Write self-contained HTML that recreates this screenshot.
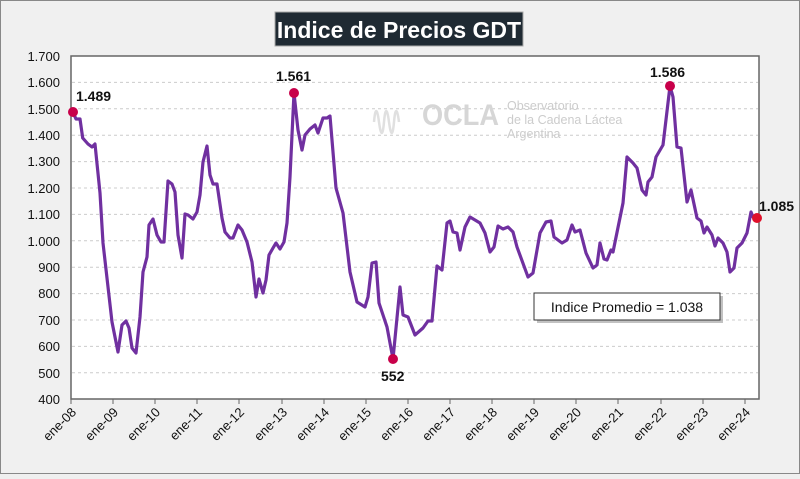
<!DOCTYPE html>
<html><head><meta charset="utf-8"><style>
body{margin:0;width:800px;height:474px;overflow:hidden;background:#efefef;font-family:"Liberation Sans",sans-serif}
</style></head><body>
<svg width="800" height="474" xmlns="http://www.w3.org/2000/svg" font-family="Liberation Sans, sans-serif">
<rect x="0.5" y="0.5" width="799" height="473" fill="#f0f0f0" stroke="#888"/>
<rect x="275" y="12" width="248" height="34" fill="#1f2a33" stroke="#aaa"/>
<text x="399" y="38" text-anchor="middle" font-size="23" font-weight="bold" fill="#fff">Indice de Precios GDT</text>
<rect x="73" y="58" width="686" height="341" fill="#c8c8c8"/>
<rect x="71" y="56" width="688" height="343" fill="#fff" stroke="#666" stroke-width="1.5"/>
<g stroke="#ccc" stroke-dasharray="3,3" stroke-width="1">
<line x1="72" x2="758" y1="82.4" y2="82.4"/><line x1="72" x2="758" y1="108.8" y2="108.8"/><line x1="72" x2="758" y1="135.2" y2="135.2"/><line x1="72" x2="758" y1="161.6" y2="161.6"/><line x1="72" x2="758" y1="188" y2="188"/><line x1="72" x2="758" y1="214.4" y2="214.4"/><line x1="72" x2="758" y1="240.8" y2="240.8"/><line x1="72" x2="758" y1="267.2" y2="267.2"/><line x1="72" x2="758" y1="293.6" y2="293.6"/><line x1="72" x2="758" y1="320" y2="320"/><line x1="72" x2="758" y1="346.4" y2="346.4"/><line x1="72" x2="758" y1="372.8" y2="372.8"/>
</g>
<g font-size="13" fill="#111" text-anchor="end">
<text x="60" y="61">1.700</text><text x="60" y="87">1.600</text><text x="60" y="114">1.500</text><text x="60" y="140">1.400</text><text x="60" y="166">1.300</text><text x="60" y="193">1.200</text><text x="60" y="219">1.100</text><text x="60" y="246">1.000</text><text x="60" y="272">900</text><text x="60" y="298">800</text><text x="60" y="325">700</text><text x="60" y="351">600</text><text x="60" y="378">500</text><text x="60" y="404">400</text>
</g>
<g stroke="#666" stroke-width="1">
<line x1="71" y1="399" x2="71" y2="404"/><line x1="113" y1="399" x2="113" y2="404"/><line x1="155" y1="399" x2="155" y2="404"/><line x1="197" y1="399" x2="197" y2="404"/><line x1="239" y1="399" x2="239" y2="404"/><line x1="282" y1="399" x2="282" y2="404"/><line x1="324" y1="399" x2="324" y2="404"/><line x1="366" y1="399" x2="366" y2="404"/><line x1="408" y1="399" x2="408" y2="404"/><line x1="450" y1="399" x2="450" y2="404"/><line x1="492" y1="399" x2="492" y2="404"/><line x1="534" y1="399" x2="534" y2="404"/><line x1="576" y1="399" x2="576" y2="404"/><line x1="618" y1="399" x2="618" y2="404"/><line x1="661" y1="399" x2="661" y2="404"/><line x1="703" y1="399" x2="703" y2="404"/><line x1="745" y1="399" x2="745" y2="404"/>
</g>
<g font-size="13" fill="#111" text-anchor="end">
<text transform="translate(77,413) rotate(-45)">ene-08</text><text transform="translate(119,413) rotate(-45)">ene-09</text><text transform="translate(161,413) rotate(-45)">ene-10</text><text transform="translate(203,413) rotate(-45)">ene-11</text><text transform="translate(245,413) rotate(-45)">ene-12</text><text transform="translate(288,413) rotate(-45)">ene-13</text><text transform="translate(330,413) rotate(-45)">ene-14</text><text transform="translate(372,413) rotate(-45)">ene-15</text><text transform="translate(414,413) rotate(-45)">ene-16</text><text transform="translate(456,413) rotate(-45)">ene-17</text><text transform="translate(498,413) rotate(-45)">ene-18</text><text transform="translate(540,413) rotate(-45)">ene-19</text><text transform="translate(582,413) rotate(-45)">ene-20</text><text transform="translate(624,413) rotate(-45)">ene-21</text><text transform="translate(667,413) rotate(-45)">ene-22</text><text transform="translate(709,413) rotate(-45)">ene-23</text><text transform="translate(751,413) rotate(-45)">ene-24</text>
</g>
<g fill="#ccc">
<text x="422" y="125" font-size="30" font-weight="bold" fill="#d6d6d6" textLength="77" lengthAdjust="spacingAndGlyphs">OCLA</text>
<text x="507" y="110" font-size="12.5">Observatorio</text>
<text x="507" y="124" font-size="12.5">de la Cadena Láctea</text>
<text x="507" y="138" font-size="12.5">Argentina</text>
<path d="M374 122 q2-22 5 0 t5 0 t5 0 t5 0 t5 0" stroke="#e0e0e0" stroke-width="2.5" fill="none"/>
</g>
<polyline fill="none" stroke="#7030a0" stroke-width="3.2" stroke-linejoin="round" points="72.7,111.7 76,119 80,119 82.7,138 88,144 92,147 95,144 100,193 103,243 112,322 118,352 122,325 126,321 129,328 132,348 136,353 140,317 143,272 147,257 149,225 153,219 157,235 161,242 164,242 168,181 172,184 175,192 178,235 182,258 185,214 188,215 193,219 197,212 200,195 203,162 207,146 210,175 213,184 217,184 222,218 225,232 230,238 233,238 238,225 242,230 247,242 252,262 256,297 259,279 263,293 266,280 269,255 273,248 276,243 280,249 284,242 287,223 290,177 294,93 298,130 302,150 305,135 310,129 315,125 318,133 323,118 327,118 330,116 336,188 343,213 350,272 357,302 365,307 368,297 372,263 376,262 379,303 387,327 393,359 400,287 403,315 408,317 415,335 423,328 428,321 432,321 437,266 442,270 447,223 450,221 453,232 457,233 460,250 465,227 470,217 475,220 480,223 485,233 490,252 494,247 498,226 503,229 508,227 513,232 517,247 528,277 533,273 540,233 546,222 551,221 554,237 562,243 567,240 572,225 575,232 580,230 586,253 593,268 597,265 600,243 604,259 607,260 611,250 613,252 623,203 627,157 633,163 637,168 642,190 646,195 648,182 652,177 656,157 663,145 670,86 673,97 677,147 681,148 687,202 691,190 697,218 701,221 704,233 707,227 712,235 715,246 718,238 723,243 727,252 730,272 734,268 737,248 742,243 747,233 751,212 753,217 757,218"/>
<g fill="#c8004a">
<circle cx="73" cy="112" r="5"/><circle cx="294" cy="93" r="5"/><circle cx="393" cy="359" r="5"/><circle cx="670" cy="86" r="5"/><circle cx="757" cy="218" r="5" fill="#e0102a"/>
</g>
<g font-size="14" font-weight="bold" fill="#111">
<text x="76" y="101">1.489</text><text x="276" y="81">1.561</text><text x="381" y="381">552</text><text x="650" y="77">1.586</text><text x="759" y="211">1.085</text>
</g>
<rect x="537" y="296" width="186" height="27" fill="#999" opacity="0.6"/>
<rect x="534" y="293" width="186" height="27" fill="#fff" stroke="#333"/>
<text x="627" y="312" text-anchor="middle" font-size="14" fill="#111">Indice Promedio  =  1.038</text>
</svg>
</body></html>
